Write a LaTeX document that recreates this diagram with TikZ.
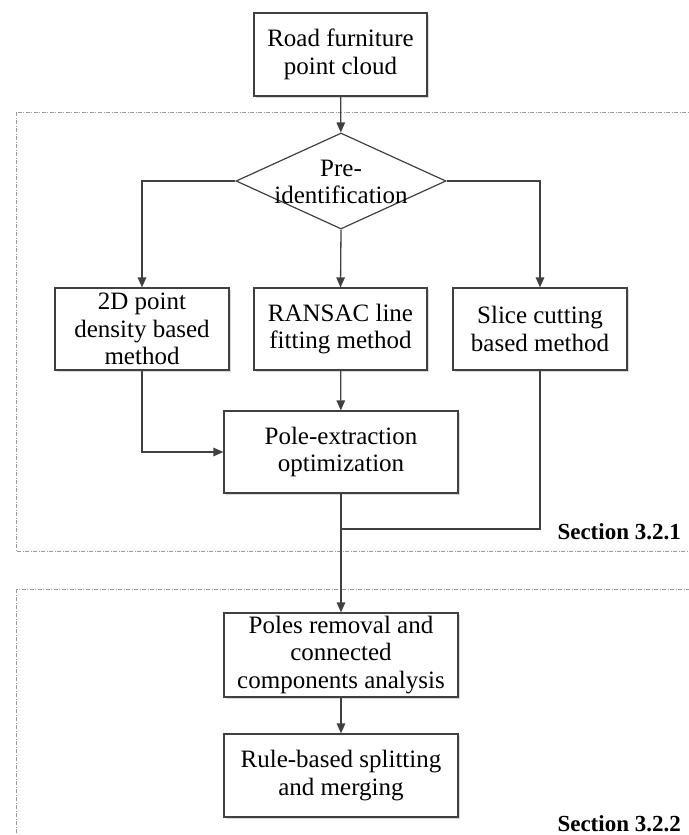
\documentclass[tikz,border=0pt]{standalone}
\usepackage{fontspec}
\setmainfont{Liberation Serif}
\usetikzlibrary{arrows.meta,shapes.geometric,shadows}
\definecolor{ink}{HTML}{404040}
\definecolor{framegray}{HTML}{9A9A9A}
\tikzset{
  box/.style={draw=ink, line width=1.2pt, fill=white, align=center,
    inner sep=2pt, font=\fontsize{25}{27.5}\selectfont,
    drop shadow={shadow xshift=1.6pt, shadow yshift=-1.6pt, fill=black!30, opacity=0.5}},
  flow/.style={draw=ink, line width=1.3pt, -{Triangle[length=10pt,width=8.5pt]}},
  link/.style={draw=ink, line width=1.3pt},
  frame/.style={draw=framegray, line width=1pt, dash pattern=on 4pt off 1.5pt on 1pt off 1.5pt},
  seclabel/.style={font=\fontsize{23}{27}\selectfont\bfseries, anchor=base east, inner sep=0pt},
}
\begin{document}
\begin{tikzpicture}[x=1pt, y=-1pt]
\useasboundingbox (0,0) rectangle (688,835);

% section frames (open past the right and bottom edges)
\draw[frame] (16,112) rectangle (700,551);
\draw[frame] (16,589) rectangle (700,850);
\node[seclabel] (sec1) at (681,539) {Section 3.2.1};
\node[seclabel] (sec2) at (681,831) {Section 3.2.2};

% boxes
\node[box, minimum width=173pt, minimum height=83pt] (cloud) at (340.5,54.5) {Road furniture\\point cloud};

\node[draw=ink, line width=1.2pt, fill=white, diamond, aspect=2.19,
      minimum width=210pt, minimum height=96pt, inner sep=0pt] (pre) at (341,181) {};
\node[align=center, font=\fontsize{25}{27.5}\selectfont, inner sep=0pt] (pretext) at (341,182) {Pre-\\identification};

\node[box, minimum width=174pt, minimum height=82pt] (dens) at (142,329) {2D point\\density based\\method};
\node[box, minimum width=173pt, minimum height=82pt] (ransac) at (340.5,329) {RANSAC line\\fitting method};
\node[box, minimum width=174pt, minimum height=82pt] (slice) at (540,329) {Slice cutting\\based method};

\node[box, minimum width=234pt, minimum height=82pt] (opt) at (341,452) {Pole-extraction\\optimization};
\node[box, minimum width=234pt, minimum height=84pt] (remv) at (341,655) {Poles removal and\\connected\\components analysis};
\node[box, minimum width=234pt, minimum height=83pt] (rule) at (341,775.5) {Rule-based splitting\\and merging};

% junction below the optimisation box
\coordinate (join) at (opt.south |- 0,529);

% connectors
\draw[flow] (cloud) -- (pre);
\draw[flow] (pre.west) -| (dens.north);
\draw[flow] (pre.east) -| (slice.north);
\draw[flow] (pre.south) -- (ransac.north);
\draw[flow] (ransac) -- (opt);
\draw[flow] (dens.south) |- (opt.west);
\draw[link] (slice.south) |- (join);
\draw[flow] (opt.south) -- (remv.north);
\draw[flow] (remv) -- (rule);
\end{tikzpicture}
\end{document}
